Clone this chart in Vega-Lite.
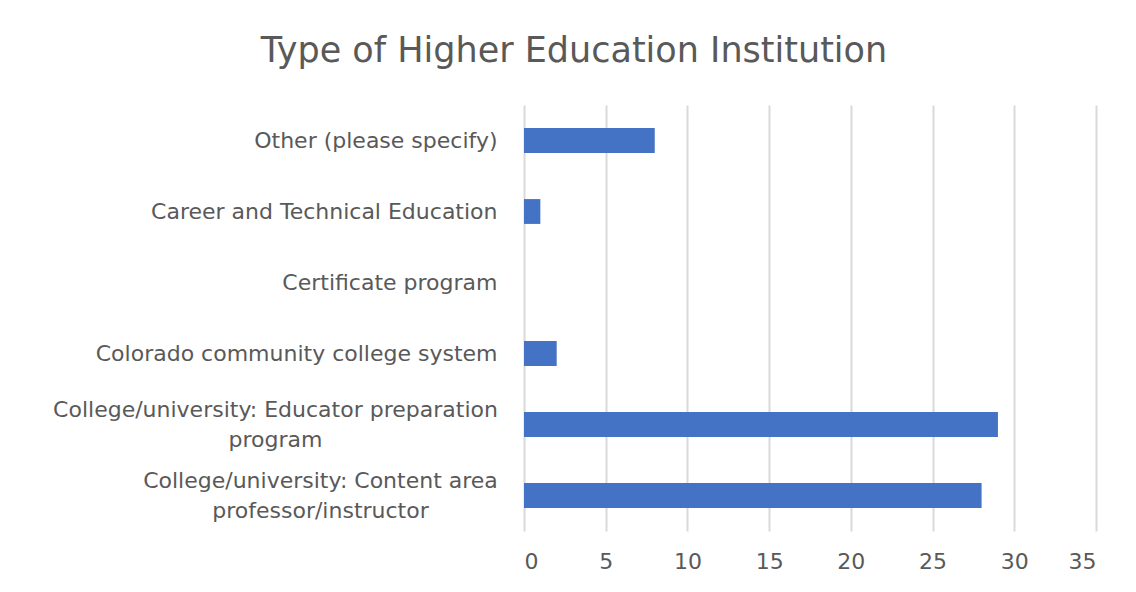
{
  "$schema": "https://vega.github.io/schema/vega-lite/v6.json",
  "width": 572,
  "height": 426,
  "autosize": {"type": "none"},
  "padding": {"left": 524, "top": 105, "right": 40, "bottom": 61},
  "background": "white",
  "title": {
    "text": "Type of Higher Education Institution",
    "anchor": "middle",
    "frame": "group",
    "dx": -236,
    "offset": 36,
    "font": "DejaVu Sans",
    "fontSize": 35,
    "fontWeight": "normal",
    "color": "#595959"
  },
  "data": {
    "values": [
      {"category": "Other (please specify)", "count": 8},
      {"category": "Career and Technical Education", "count": 1},
      {"category": "Certificate program", "count": 0},
      {"category": "Colorado community college system", "count": 2},
      {"category": "College/university: Educator preparation|program", "count": 29},
      {"category": "College/university: Content area|professor/instructor", "count": 28}
    ]
  },
  "mark": {"type": "bar", "color": "#4472C4"},
  "encoding": {
    "y": {
      "field": "category",
      "type": "nominal",
      "sort": null,
      "scale": {"paddingInner": 0.65, "paddingOuter": 0.325},
      "axis": {
        "title": null,
        "domain": false,
        "ticks": false,
        "grid": false,
        "labelPadding": {"condition": [{"test": "indexof(datum.value, 'Educator') >= 0", "value": 249}, {"test": "indexof(datum.value, 'Content') >= 0", "value": 204}], "value": 27},
        "labelAlign": {"condition": {"test": "indexof(datum.value, '|') >= 0", "value": "center"}, "value": "right"},
        "labelFont": "DejaVu Sans",
        "labelFontSize": 22,
        "labelColor": "#595959",
        "labelLimit": 600,
        "labelLineHeight": 30,
        "labelOffset": {"condition": {"test": "indexof(datum.value, '|') >= 0", "value": -15}, "value": 0},
        "labelExpr": "split(datum.value, '|')"
      }
    },
    "x": {
      "field": "count",
      "type": "quantitative",
      "scale": {"domain": [0, 35], "nice": false},
      "axis": {
        "title": null,
        "values": [0, 5, 10, 15, 20, 25, 30, 35],
        "domain": false,
        "ticks": false,
        "grid": true,
        "gridColor": "#d9d9d9",
        "gridWidth": 2,
        "labelPadding": 20,
        "labelFont": "DejaVu Sans",
        "labelFontSize": 22,
        "labelColor": "#595959"
      }
    }
  },
  "config": {"view": {"stroke": null}}
}
